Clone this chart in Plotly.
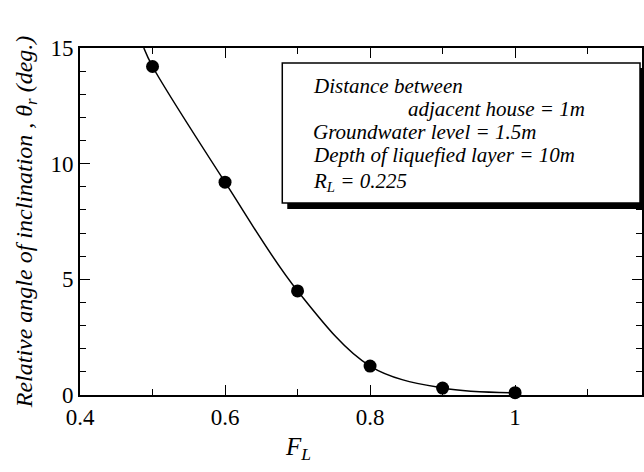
import plotly.graph_objects as go

# Data
F_L = [0.5, 0.6, 0.7, 0.8, 0.9, 1.0]
theta_r = [14.2, 9.2, 4.5, 1.25, 0.3, 0.1]

# Fitted curve guide points (curve enters the top of the frame near F_L=0.488)
curve_x = [0.488, 0.5, 0.6, 0.7, 0.8, 0.9, 1.0]
curve_y = [15.0, 14.2, 9.2, 4.5, 1.25, 0.3, 0.1]

x_ticks = [0.4, 0.6, 0.8, 1.0]
x_tick_labels = ["0.4", "0.6", "0.8", "1"]
y_ticks = [0, 5, 10, 15]

legend_lines = [
    "<i>Distance between</i>",
    "<i>adjacent house = 1m</i>",
    "<i>Groundwater level = 1.5m</i>",
    "<i>Depth of liquefied layer = 10m</i>",
    "<i>R<sub>L</sub> = 0.225</i>",
]
legend_x = [312, 407, 312, 312, 312]
legend_y = [86, 109, 132, 155, 182]

FONT = "Liberation Serif"

fig = go.Figure()
fig.add_trace(go.Scatter(
    x=curve_x, y=curve_y, mode="lines",
    line=dict(color="black", width=1.5, shape="spline", smoothing=1.0),
    hoverinfo="skip", showlegend=False,
))
fig.add_trace(go.Scatter(
    x=F_L, y=theta_r, mode="markers",
    marker=dict(color="black", size=13),
    showlegend=False, cliponaxis=False,
))

W, H = 644, 472
L, R, T, B = 80, 0, 48, 77
pw, ph = W - L - R, H - T - B

def px(xp):
    return (xp - L) / pw

def py(yp):
    return (H - B - yp) / ph

shapes = []
shapes.append(dict(type="rect", xref="paper", yref="paper",
                   x0=px(288), x1=px(648), y0=py(209), y1=py(68),
                   fillcolor="black", line=dict(width=0), layer="above"))
shapes.append(dict(type="rect", xref="paper", yref="paper",
                   x0=px(283), x1=px(642), y0=py(203), y1=py(63),
                   fillcolor="white", line=dict(color="black", width=1.5), layer="above"))

annotations = []
for txt, xx, yy in zip(legend_lines, legend_x, legend_y):
    annotations.append(dict(
        text=txt, xref="paper", yref="paper", x=px(xx), y=py(yy),
        xanchor="left", yanchor="middle", showarrow=False,
        font=dict(family=FONT, size=21, color="black"), align="left",
    ))
annotations.append(dict(
    text="<i>F<sub>L</sub></i>", xref="x", yref="paper", x=0.7, y=py(448),
    xanchor="center", yanchor="middle", showarrow=False,
    font=dict(family=FONT, size=25, color="black"),
))

fig.update_layout(
    width=W, height=H,
    margin=dict(l=L, r=R, t=T, b=B),
    paper_bgcolor="white", plot_bgcolor="white",
    font=dict(family=FONT, size=20, color="black"),
    shapes=shapes, annotations=annotations,
    xaxis=dict(
        range=[0.4, 1.175], tickvals=x_ticks, ticktext=x_tick_labels,
        ticks="inside", ticklen=10, tickwidth=1.2, tickcolor="black",
        showline=True, linecolor="black", linewidth=2, mirror="ticks",
        showgrid=False, zeroline=False,
        tickfont=dict(family=FONT, size=23),
        minor=dict(tickvals=[0.5, 0.7, 0.9, 1.1], ticks="inside", ticklen=6, tickcolor="black", tickwidth=1.2),
    ),
    yaxis=dict(
        range=[0, 15], tickvals=y_ticks,
        ticks="inside", ticklen=10, tickwidth=1.2, tickcolor="black",
        showline=True, linecolor="black", linewidth=2, mirror="ticks",
        showgrid=False, zeroline=False,
        tickfont=dict(family=FONT, size=23),
        minor=dict(dtick=1, ticks="inside", ticklen=6, tickcolor="black", tickwidth=1.2),
        title=dict(text="<i>Relative angle of inclination , θ<sub>r</sub> (deg.)</i>",
                   font=dict(family=FONT, size=24), standoff=11),
    ),
)

fig.write_html("out.html")
